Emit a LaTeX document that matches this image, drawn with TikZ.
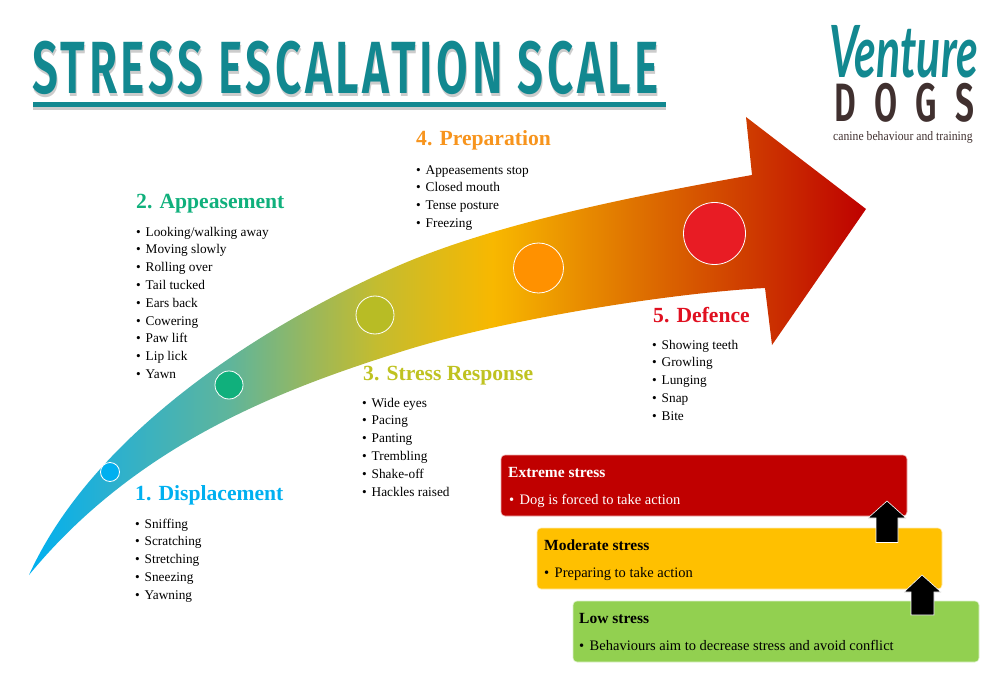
\documentclass[tikz,border=0pt]{standalone}
\usepackage{fontspec}
\setmainfont{Liberation Serif}
\newfontfamily\titlefont[FakeStretch=0.62,LetterSpace=5]{Fira Sans SemiBold}
\newfontfamily\dogsfont[FakeStretch=0.62,LetterSpace=34]{Fira Sans SemiBold}
\newfontfamily\venturefont[FakeStretch=0.62]{Lato Bold Italic}
\newfontfamily\tagfont[FakeStretch=0.9]{Liberation Serif}
\definecolor{teal1}{HTML}{128890}
\definecolor{brown1}{HTML}{40302F}
\definecolor{cA}{HTML}{00B0F0}
\definecolor{cB}{HTML}{10B07C}
\definecolor{cC}{HTML}{BFC221}
\definecolor{cD}{HTML}{F7941D}
\definecolor{cE}{HTML}{E01020}
\definecolor{dC}{HTML}{B8BC25}
\definecolor{dD}{HTML}{FF9100}
\definecolor{dE}{HTML}{E81C24}
\definecolor{boxR}{HTML}{C00000}
\definecolor{boxY}{HTML}{FFC000}
\definecolor{boxG}{HTML}{92D050}
\definecolor{g1}{HTML}{2AB0D0}
\definecolor{g2}{HTML}{5FB59B}
\definecolor{g3}{HTML}{A0B855}
\definecolor{g4}{HTML}{C3BC30}
\definecolor{g5}{HTML}{F8B800}
\definecolor{g6}{HTML}{DE7000}
\definecolor{g7}{HTML}{CC3300}
\definecolor{g8}{HTML}{BE0000}
\pgfdeclarehorizontalshading{arrowgrad}{100bp}{
  color(0bp)=(cA);
  color(25bp)=(cA);
  color(29.8bp)=(g1);
  color(37bp)=(g2);
  color(42.4bp)=(g3);
  color(45.7bp)=(g4);
  color(52.7bp)=(g5);
  color(61.5bp)=(g6);
  color(69bp)=(g7);
  color(75bp)=(g8);
  color(100bp)=(g8)}
\newcommand{\bl}[1]{\strut\makebox[9.5pt][l]{\textbullet}#1}
\tikzset{
  x=1pt,y=-1pt,
  heading/.style={anchor=base west,inner sep=0pt,font=\fontsize{21.6}{24}\selectfont\bfseries},
  listing/.style={anchor=north west,inner sep=0pt,align=left,font=\fontsize{13.3}{17.8}\selectfont},
  stressbox/.style={rounded corners=4pt,draw=white!70!#1,line width=.6pt,fill=#1},
  boxtitle/.style={anchor=base west,inner sep=0pt,font=\fontsize{15.5}{18}\selectfont\bfseries},
  boxline/.style={anchor=base west,inner sep=0pt,font=\fontsize{14.5}{18}\selectfont},
  dot/.style={circle,draw=white,line width=.8pt,inner sep=0pt,minimum size=#1},
  blockarrow/.style={fill=black,draw=white,line width=.6pt,line join=miter}
}
\begin{document}
\begin{tikzpicture}
\useasboundingbox (0,0) rectangle (1000,692);
% title, its soft shadow set in the same node
\node[anchor=base west,inner sep=0pt,text=teal1,font=\titlefont\fontsize{74}{78}\selectfont] (title) at (32,94)
  {\rlap{\kern1pt\raisebox{-3pt}{\textcolor{gray!40}{STRESS ESCALATION SCALE}}}STRESS ESCALATION SCALE};
\fill[gray!40] (33,106) rectangle (666,110);
\fill[teal1] (33,102.5) rectangle (666,107);
% logo
\node[anchor=base west,inner sep=0pt,text=teal1,font=\venturefont\fontsize{72}{76}\selectfont] (venture) at (829,78) {Venture};
\node[anchor=base west,inner sep=0pt,text=brown1,font=\dogsfont\fontsize{54}{58}\selectfont] (dogs) at (834,122) {DOGS};
\node[anchor=base west,inner sep=0pt,text=brown1,font=\tagfont\fontsize{13}{16}\selectfont] (tagline) at (833,141) {canine behaviour and training};
% main arrow
\path[shade,shading=arrowgrad,shading angle=0]
  (29,575) .. controls (90,440) and (250,330) .. (400,265)
  .. controls (500,222) and (640,195) .. (752,175)
  -- (746,117) -- (866,209) -- (772,345) -- (765,288)
  .. controls (670,293) and (500,320) .. (400,352)
  .. controls (290,387) and (140,440) .. (29,575) -- cycle;
% dots
\node[dot=19pt,fill=cA] (d1) at (110,472) {};
\node[dot=28pt,fill=cB] (d2) at (229,385) {};
\node[dot=38pt,fill=dC] (d3) at (375,315) {};
\node[dot=50pt,fill=dD] (d4) at (538.5,268) {};
\node[dot=62pt,fill=dE] (d5) at (714.5,233.5) {};
% headings and lists
\node[heading,text=cA] (h1) at (135,500) {1. Displacement};
\node[listing] (l1) at (135,515.5) {\bl{Sniffing}\\\bl{Scratching}\\\bl{Stretching}\\\bl{Sneezing}\\\bl{Yawning}};
\node[heading,text=cB] (h2) at (136,209) {2. Appeasement};
\node[listing] (l2) at (136,223.5) {\bl{Looking/walking away}\\\bl{Moving slowly}\\\bl{Rolling over}\\\bl{Tail tucked}\\\bl{Ears back}\\\bl{Cowering}\\\bl{Paw lift}\\\bl{Lip lick}\\\bl{Yawn}};
\node[heading,text=cC] (h3) at (363,380) {3. Stress Response};
\node[listing] (l3) at (362,394.5) {\bl{Wide eyes}\\\bl{Pacing}\\\bl{Panting}\\\bl{Trembling}\\\bl{Shake-off}\\\bl{Hackles raised}};
\node[heading,text=cD] (h4) at (416,146) {4. Preparation};
\node[listing] (l4) at (416,161.5) {\bl{Appeasements stop}\\\bl{Closed mouth}\\\bl{Tense posture}\\\bl{Freezing}};
\node[heading,text=cE] (h5) at (653,322) {5. Defence};
\node[listing] (l5) at (652,336.5) {\bl{Showing teeth}\\\bl{Growling}\\\bl{Lunging}\\\bl{Snap}\\\bl{Bite}};
% stress boxes
\draw[stressbox=boxR] (501,455) rectangle (907,516);
\draw[stressbox=boxY] (537,528) rectangle (942,589);
\draw[stressbox=boxG] (573,601) rectangle (979,662);
\node[boxtitle,text=white] (ex) at (508,477) {Extreme stress};
\node[boxline,text=white] (exl) at (509,504) {\makebox[10.5pt][l]{\textbullet}Dog is forced to take action};
\node[boxtitle] (mo) at (544,550) {Moderate stress};
\node[boxline] (mol) at (544,577) {\makebox[10.5pt][l]{\textbullet}Preparing to take action};
\node[boxtitle] (lo) at (579,623) {Low stress};
\node[boxline] (lol) at (579,650) {\makebox[10.5pt][l]{\textbullet}Behaviours aim to decrease stress and avoid conflict};
% up arrows
\draw[blockarrow] (887,501) -- (906,518) -- (898,518) -- (898,542.5) -- (876,542.5) -- (876,518) -- (868,518) -- cycle;
\draw[blockarrow] (922,575) -- (941,592) -- (934,592) -- (934,615) -- (911,615) -- (911,592) -- (904,592) -- cycle;
\end{tikzpicture}
\end{document}
